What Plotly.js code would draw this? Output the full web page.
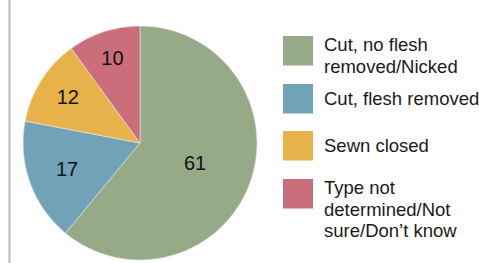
<!DOCTYPE html>
<html><head><meta charset="utf-8">
<script src="https://cdn.plot.ly/plotly-3.0.1.min.js"></script>
<style>html,body{margin:0;padding:0;background:#fff}</style>
</head><body>
<div id="chart" style="width:479px;height:263px"></div>
<script>
var categories = ["Cut, no flesh<br>removed/Nicked", "Cut, flesh removed", "Sewn closed", "Type not<br>determined/Not<br>sure/Don’t know"];
var values = [61, 17, 12, 10];
var colors = ["#96aa88", "#70a2b8", "#e8b24a", "#cb6e7c"];

var W = 479, H = 263;
function py(pix){ return 1 - pix / H; }
function px(pix){ return pix / W; }
var FONT = 'Liberation Sans, Arial, sans-serif';

var shapes = [{type:'line', xref:'paper', yref:'paper', x0:px(9.5), x1:px(9.5), y0:0, y1:1,
  line:{color:'#c6c6c6', width:2.5}}];
var annotations = [];
var sqTops = [36, 84, 131, 179];
var firstBaselines = [50.7, 104, 151.7, 193.3];
var lineStep = 21.7;
categories.forEach(function(c, i){
  var t = sqTops[i];
  shapes.push({type:'rect', xref:'paper', yref:'paper', x0:px(283), x1:px(313), y0:py(t+29.5), y1:py(t),
    fillcolor:colors[i], line:{width:0}});
  c.split('<br>').forEach(function(ln, k){
    var base = firstBaselines[i] + k * lineStep;
    annotations.push({xref:'paper', yref:'paper', x:px(321.5), xanchor:'left',
      y: py(base - 6), yanchor:'middle',
      text:ln, showarrow:false, align:'left',
      font:{family:FONT, size:18.5, color:'#1a1a1a'}});
  });
});

var data = [{
  type:'pie', values:values, labels:categories, sort:false, direction:'clockwise', rotation:0,
  marker:{colors:colors, line:{color:'#e8e8e8', width:0.6}},
  textinfo:'value', textposition:'inside', insidetextorientation:'horizontal',
  textfont:{family:FONT, size:20, color:'#111'},
  insidetextfont:{family:FONT, size:20, color:'#111'},
  domain:{x:[px(23), px(257)], y:[py(260), py(26)]},
  hoverinfo:'none', showlegend:false
}];
var layout = {width:W, height:H, margin:{l:0,r:0,t:0,b:0}, paper_bgcolor:'#fff',
  showlegend:false, shapes:shapes, annotations:annotations};
Plotly.newPlot('chart', data, layout, {displayModeBar:false, staticPlot:true});
</script>
</body></html>
